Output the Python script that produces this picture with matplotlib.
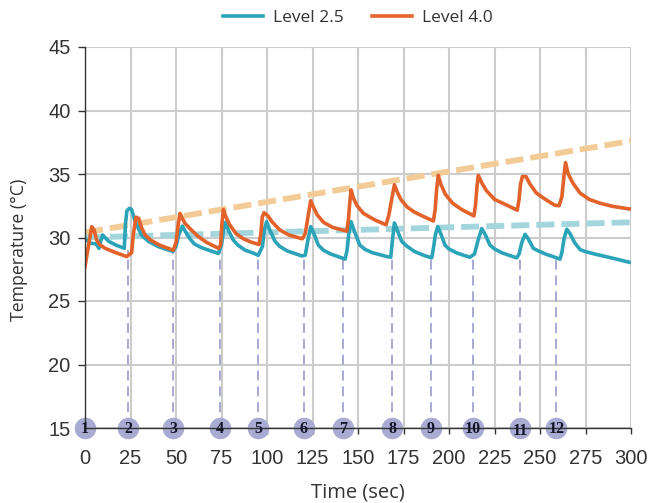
import matplotlib
matplotlib.use('Agg')
import matplotlib.pyplot as plt

t_teal = [0, 3, 6, 7.7, 8.8, 9.7, 11, 13, 17, 21.6, 22.2, 23, 24.5, 25.6, 27, 28.4, 31, 34.8, 40, 44, 48.4, 50, 51.5, 53.5, 55, 57.7, 60, 64, 69, 73.3, 75, 76, 77.3, 79, 81.5, 84, 88, 92, 95.2, 97.5, 98.5, 99.8, 101.5, 104.4, 107, 111, 115, 119, 121, 122.5, 124, 125.5, 128.2, 131, 135, 139, 142.9, 144, 145, 146.2, 148, 151, 154, 158, 162, 165.8, 168, 169, 170, 171.5, 174, 177, 181, 186, 190.5, 191.5, 192.5, 193.8, 195.5, 197.8, 200, 204, 208, 211.5, 214, 216, 218, 220, 222.5, 225, 229, 233, 237.2, 238.5, 240, 241.8, 243.5, 246.3, 249, 253, 257, 261, 262, 263.2, 264.7, 266.5, 269, 272, 274.7, 280, 286, 292, 299]
y_teal = [29.9, 29.55, 29.5, 29.15, 29.8, 30.2, 30, 29.7, 29.4, 29.15, 31, 32.1, 32.3, 32.2, 31.5, 31, 30.2, 29.7, 29.3, 29.1, 28.9, 29.3, 30.2, 30.9, 30.5, 29.9, 29.5, 29.2, 28.95, 28.75, 29.4, 30.5, 31.2, 30.5, 29.8, 29.4, 29, 28.8, 28.6, 29.3, 30.6, 31.25, 30.6, 29.7, 29.3, 28.95, 28.75, 28.55, 28.6, 29.8, 30.85, 30.4, 29.4, 29, 28.7, 28.5, 28.3, 29, 30.4, 31.25, 30.5, 29.4, 29.05, 28.8, 28.65, 28.5, 28.45, 29.9, 31.15, 30.6, 29.7, 29.3, 28.9, 28.6, 28.4, 29.2, 30.2, 30.85, 30.3, 29.4, 29.1, 28.8, 28.6, 28.45, 28.7, 29.8, 30.7, 30.2, 29.4, 29.1, 28.8, 28.6, 28.4, 28.7, 29.6, 30.25, 29.9, 29.15, 28.95, 28.7, 28.5, 28.3, 28.8, 29.9, 30.65, 30.3, 29.6, 29.05, 28.9, 28.7, 28.5, 28.3, 28.05]
t_orange = [0, 1.5, 3.7, 5, 6.4, 8, 11, 17, 22.9, 25.6, 26.5, 28, 29.5, 31, 33, 36, 41, 48.5, 50, 51, 52.2, 53.5, 55, 58, 62, 67, 73.3, 74.5, 75.2, 76, 77.5, 79.5, 83, 87, 91, 95.6, 96.6, 97.4, 98.4, 100.5, 103, 107, 112, 119.4, 121, 122.5, 124, 125.5, 127.5, 131, 136, 143.8, 144.8, 145.5, 146.2, 147.5, 149.5, 153, 159, 165.4, 167, 168.5, 170, 171.5, 173.5, 177, 181, 186, 191.4, 192.4, 193.2, 194.1, 195.5, 198, 202, 207, 213.7, 214.6, 215.3, 216.1, 218, 220.5, 225, 231, 237.5, 238.5, 239.3, 240.3, 242.3, 244.5, 248, 253, 258, 260.5, 262, 263, 264, 265.5, 268, 272, 277, 283, 290, 299]
y_orange = [27.7, 29, 30.85, 30.6, 29.8, 29.45, 29.15, 28.8, 28.5, 28.8, 30.2, 31.6, 31.5, 30.8, 30.2, 29.8, 29.4, 29, 29.6, 30.8, 31.9, 31.5, 31.1, 30.65, 30.1, 29.6, 29.15, 29.4, 31, 32.2, 31.6, 31, 30.3, 29.9, 29.65, 29.45, 30.3, 31.6, 31.95, 31.7, 31.2, 30.6, 30.2, 29.9, 30.3, 31.6, 32.9, 32.4, 31.8, 31.2, 30.8, 30.5, 31.5, 32.8, 33.75, 33.1, 32.5, 31.9, 31.4, 31, 31.8, 33, 34.15, 33.6, 33, 32.4, 32, 31.65, 31.3, 32.2, 33.8, 34.9, 34.2, 33.4, 32.7, 32.2, 31.7, 32.6, 33.9, 34.9, 34.3, 33.7, 33, 32.6, 32.15, 33, 34.2, 34.8, 34.8, 34.2, 33.5, 33, 32.55, 32.5, 33.2, 34.6, 35.9, 35, 34.3, 33.5, 33, 32.7, 32.45, 32.25]
trend_t = [0, 300]
trend_teal = [30.0, 31.2]
trend_orange = [30.4, 37.6]
event_t = [0, 23.6, 48.4, 74.2, 95, 120.3, 141.8, 168.7, 190, 213, 239, 259]
event_top = [29.9, 29.0, 28.9, 28.75, 28.6, 28.6, 28.3, 28.45, 28.4, 28.45, 28.4, 28.3]
event_labels = ['1', '2', '3', '4', '5', '6', '7', '8', '9', '10', '11', '12']
x_ticks = list(range(0, 301, 25))
y_ticks = list(range(15, 46, 5))

teal = '#2ba3b9'
orange = '#e2622a'
sans = ['Liberation Sans', 'DejaVu Sans']
label_font = ['Open Sans', 'DejaVu Sans']

fig = plt.figure(figsize=(6.51, 5.03), dpi=100)
ax = fig.add_axes([85 / 651, 75 / 503, 546 / 651, 381 / 503])

ax.plot(trend_t, trend_orange, color='#f2cb96', lw=4.2, ls=(0, (3.1, 1.2)), zorder=2)
ax.plot(trend_t, trend_teal, color='#a2d5dc', lw=4.2, ls=(0, (3.1, 1.2)), zorder=2)
for t, top in zip(event_t, event_top):
    ax.plot([t, t], [15, top], color='#9a9ccd', lw=1.2, ls=(0, (6, 3.5)), zorder=2)
line_teal, = ax.plot(t_teal, y_teal, color=teal, lw=2.6, label='Level 2.5', zorder=3)
line_orange, = ax.plot(t_orange, y_orange, color=orange, lw=2.6, label='Level 4.0', zorder=4)

ax.plot(event_t, [15] * len(event_t), 'o', color='#a9abd3', ms=14.5, clip_on=False, zorder=5)
for t, lab in zip(event_t, event_labels):
    # 11 sits a bit low in the original
    ax.text(t, 14.8 if lab == '11' else 14.95, lab, family=['Liberation Serif'], weight='bold', fontsize=11.5,
            color='#15152a', ha='center', va='center', zorder=7)

ax.set_xlim(0, 300)
ax.set_ylim(15, 45)
ax.set_xticks(x_ticks)
ax.set_yticks(y_ticks)
ax.grid(True, color='#cccccc', lw=1.5)
ax.set_axisbelow(True)
for side in ['top', 'right']:
    ax.spines[side].set_visible(False)
for side in ['left', 'bottom']:
    ax.spines[side].set_color('#333333')
    ax.spines[side].set_linewidth(1.0)
    ax.spines[side].set_zorder(6)
ax.tick_params(axis='y', color='#333333', length=5, width=1, pad=5.5)
ax.tick_params(axis='x', color='#333333', length=4, width=1, pad=11)
for lab in ax.get_xticklabels() + ax.get_yticklabels():
    lab.set_family(sans)
    lab.set_fontsize(14.5)
    lab.set_color('#333333')

ax.set_xlabel('Time (sec)', family=label_font, fontsize=14.5, color='#333333', va='center')
ax.set_ylabel('Temperature (°C)', family=label_font, fontsize=12.8, color='#333333', va='center')
ax.xaxis.set_label_coords(0.5, -0.168)
ax.yaxis.set_label_coords(-0.121, 0.467)

fig.legend(handles=[line_teal, line_orange], loc='upper center', bbox_to_anchor=(358 / 651, 1.012), ncol=2,
           frameon=False, prop={'family': label_font, 'size': 12.5}, labelcolor='#333333',
           handlelength=2.3, columnspacing=1.6, handletextpad=0.6)

fig.savefig('out.png', dpi=100)
